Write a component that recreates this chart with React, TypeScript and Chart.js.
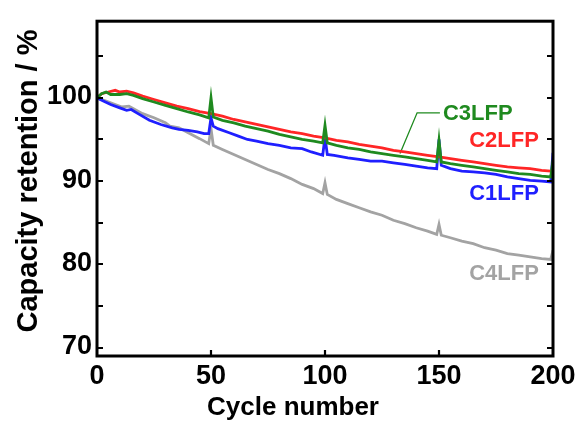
import React, { useEffect, useRef } from "react";
import { Chart, registerables } from "chart.js";

Chart.register(...registerables);

// ---- Data ----
const c2Cycles = [0, 2, 5, 8, 10, 13, 16, 20, 25, 30, 35, 40, 45, 50, 55, 60, 65, 70, 75, 80, 85, 90, 95, 100, 105, 110, 115, 120, 125, 130, 135, 140, 145, 150, 155, 160, 165, 170, 175, 180, 185, 190, 195, 199, 200];
const c2Values = [100.0, 100.5, 100.7, 100.9, 100.7, 100.8, 100.6, 100.2, 99.8, 99.4, 99.0, 98.7, 98.35, 98.1, 97.8, 97.4, 97.1, 96.8, 96.5, 96.2, 95.9, 95.7, 95.4, 95.2, 94.9, 94.7, 94.4, 94.2, 94.0, 93.7, 93.5, 93.3, 93.1, 92.9, 92.7, 92.5, 92.3, 92.1, 91.9, 91.7, 91.6, 91.5, 91.3, 91.2, 91.3];

const c3Cycles = [0, 2, 4, 6, 10, 13, 16, 20, 25, 30, 35, 40, 45, 49, 50, 51, 55, 60, 65, 70, 75, 80, 85, 90, 95, 99, 100, 101, 105, 110, 115, 120, 125, 130, 135, 140, 145, 149, 150, 151, 155, 160, 165, 170, 175, 180, 185, 190, 195, 199, 200];
const c3Values = [100.0, 100.5, 100.7, 100.4, 100.4, 100.5, 100.3, 99.9, 99.5, 99.1, 98.7, 98.3, 97.95, 97.6, 100.0, 97.7, 97.3, 97.0, 96.6, 96.3, 96.0, 95.6, 95.3, 95.0, 94.8, 94.6, 96.7, 94.6, 94.3, 94.0, 93.8, 93.5, 93.3, 93.1, 92.9, 92.7, 92.5, 92.3, 94.9, 92.3, 92.1, 91.9, 91.7, 91.5, 91.3, 91.1, 90.9, 90.8, 90.6, 90.5, 92.5];

const c1Cycles = [0, 3, 6, 10, 13, 15, 18, 23, 28, 33, 36, 40, 44, 47, 49, 50, 51, 53, 58, 62, 66, 70, 75, 80, 85, 90, 94, 99, 100, 101, 104, 110, 115, 120, 125, 130, 135, 140, 145, 149, 150, 151, 155, 160, 165, 170, 175, 180, 185, 190, 195, 199, 200];
const c1Values = [100.0, 99.6, 99.2, 98.8, 98.5, 98.6, 98.1, 97.3, 96.8, 96.4, 96.2, 96.1, 95.9, 95.7, 95.7, 97.6, 96.6, 96.3, 95.8, 95.4, 95.0, 94.8, 94.5, 94.3, 94.0, 93.9, 93.5, 93.1, 95.3, 93.2, 93.1, 92.8, 92.6, 92.4, 92.4, 92.2, 92.0, 91.8, 91.6, 91.5, 95.0, 91.9, 91.5, 91.2, 91.1, 91.0, 90.8, 90.5, 90.3, 90.1, 90.0, 89.9, 93.4];

const c4Cycles = [0, 4, 8, 11, 14, 16, 20, 25, 30, 32, 36, 40, 45, 49, 50, 51, 55, 60, 65, 70, 75, 80, 85, 90, 95, 99, 100, 101, 105, 110, 115, 120, 125, 130, 135, 140, 145, 149, 150, 151, 155, 160, 165, 170, 175, 180, 185, 190, 195, 199, 200];
const c4Values = [100.0, 99.6, 99.2, 98.9, 99.0, 98.7, 98.1, 97.6, 97.0, 96.6, 96.4, 95.8, 95.1, 94.5, 96.3, 94.3, 93.8, 93.2, 92.6, 92.0, 91.4, 90.9, 90.3, 89.6, 89.1, 88.5, 89.8, 88.4, 87.8, 87.3, 86.8, 86.3, 85.9, 85.3, 84.9, 84.4, 84.0, 83.6, 84.8, 83.5, 83.2, 82.8, 82.5, 82.0, 81.7, 81.3, 81.1, 80.9, 80.7, 80.6, 81.7];

// Tick values
const xTickValues = [0, 50, 100, 150, 200];
const yTickValues = [70, 80, 90, 100];
const yMarkValues = [70, 75, 80, 85, 90, 95, 100, 105];
const xMarkValues = [50, 100, 150];

// Series labels (text) and their anchors in data units
const labelTexts = ["C3LFP", "C2LFP", "C1LFP", "C4LFP"];
const labelCycles = [167, 178.5, 178.5, 178.5];
const labelValues = [98.1, 94.8, 88.4, 78.9];

// Leader line for C3LFP label
const leaderCycles = [132.9, 140.4, 150.4];
const leaderValues = [93.3, 98.2, 98.2];

const RED = "#ff2626";
const GREEN = "#1f8a1f";
const BLUE = "#1f1fff";
const GREY = "#a3a3a3";
const labelColors = [GREEN, RED, BLUE, GREY];

const FONT = "'Liberation Sans', Arial, sans-serif";

const toPts = (xs: number[], ys: number[]) => xs.map((x, i) => ({ x, y: ys[i] }));

const decorPlugin = {
  id: "decor",
  afterDatasetsDraw(chart: any) {
    const { ctx, chartArea, scales } = chart;
    const xs = scales.x;
    const ys = scales.y;
    ctx.save();
    // frame
    ctx.strokeStyle = "#000";
    ctx.lineWidth = 3;
    ctx.strokeRect(chartArea.left, chartArea.top, chartArea.right - chartArea.left, chartArea.bottom - chartArea.top);
    // inward ticks
    ctx.lineWidth = 2.2;
    const tl = 6;
    ctx.beginPath();
    yMarkValues.forEach((v) => {
      const py = Math.round(ys.getPixelForValue(v));
      ctx.moveTo(chartArea.left, py);
      ctx.lineTo(chartArea.left + tl, py);
      ctx.moveTo(chartArea.right, py);
      ctx.lineTo(chartArea.right - tl, py);
    });
    xMarkValues.forEach((v) => {
      const px = Math.round(xs.getPixelForValue(v));
      ctx.moveTo(px, chartArea.bottom);
      ctx.lineTo(px, chartArea.bottom - tl);
    });
    ctx.stroke();
    // series labels
    ctx.font = `bold 22px ${FONT}`;
    ctx.textAlign = "center";
    ctx.textBaseline = "middle";
    labelTexts.forEach((t, i) => {
      ctx.fillStyle = labelColors[i];
      ctx.fillText(t, xs.getPixelForValue(labelCycles[i]), ys.getPixelForValue(labelValues[i]));
    });
    // axis titles
    ctx.fillStyle = "#000";
    ctx.font = `bold 26px ${FONT}`;
    ctx.textBaseline = "alphabetic";
    ctx.fillText("Cycle number", 293, 415);
    ctx.save();
    ctx.translate(29, 181);
    ctx.rotate(-Math.PI / 2);
    ctx.font = `bold 29px ${FONT}`;
    ctx.textBaseline = "middle";
    ctx.fillText("Capacity retention / %", 0, 0);
    ctx.restore();
    ctx.restore();
  },
};

export default function App() {
  const ref = useRef<HTMLCanvasElement>(null);
  useEffect(() => {
    if (!ref.current) return;
    const line = (label: string, data: any[], color: string, width = 2.8) => ({
      label,
      data,
      borderColor: color,
      backgroundColor: color,
      borderWidth: width,
      pointRadius: 0,
      tension: 0,
      fill: false,
    });
    const chart = new Chart(ref.current, {
      type: "line",
      data: {
        datasets: [
          line("C3LFP", toPts(c3Cycles, c3Values), GREEN),
          line("C2LFP", toPts(c2Cycles, c2Values), RED),
          line("C1LFP", toPts(c1Cycles, c1Values), BLUE),
          line("C4LFP", toPts(c4Cycles, c4Values), GREY),
          line("leader", toPts(leaderCycles, leaderValues), GREEN, 1.3),
        ],
      },
      options: {
        animation: false,
        responsive: false,
        layout: { padding: { left: 0, top: 12, right: 29, bottom: 0 } },
        plugins: { legend: { display: false }, tooltip: { enabled: false } },
        scales: {
          x: {
            type: "linear",
            min: 0,
            max: 200,
            grid: { display: false, drawTicks: false },
            border: { display: false },
            afterBuildTicks: (s: any) => {
              s.ticks = xTickValues.map((v) => ({ value: v }));
            },
            afterFit: (s: any) => {
              s.height = 68;
            },
            ticks: {
              padding: 4,
              color: "#000",
              maxRotation: 0,
              font: { family: FONT, size: 27, weight: "bold" },
            },
          },
          y: {
            type: "linear",
            min: 69,
            max: 109.2,
            grid: { display: false, drawTicks: false },
            border: { display: false },
            afterBuildTicks: (s: any) => {
              s.ticks = yTickValues.map((v) => ({ value: v }));
            },
            afterFit: (s: any) => {
              s.width = 97;
            },
            ticks: {
              padding: 5,
              color: "#000",
              labelOffset: -1,
              font: { family: FONT, size: 27, weight: "bold" },
            },
          },
        },
      },
      plugins: [decorPlugin],
    } as any);
    return () => chart.destroy();
  }, []);
  return (
    <div style={{ position: "absolute", left: 0, top: 0, width: 582, height: 424, background: "#fff" }}>
      <canvas ref={ref} width={582} height={424} style={{ display: "block" }} />
    </div>
  );
}
